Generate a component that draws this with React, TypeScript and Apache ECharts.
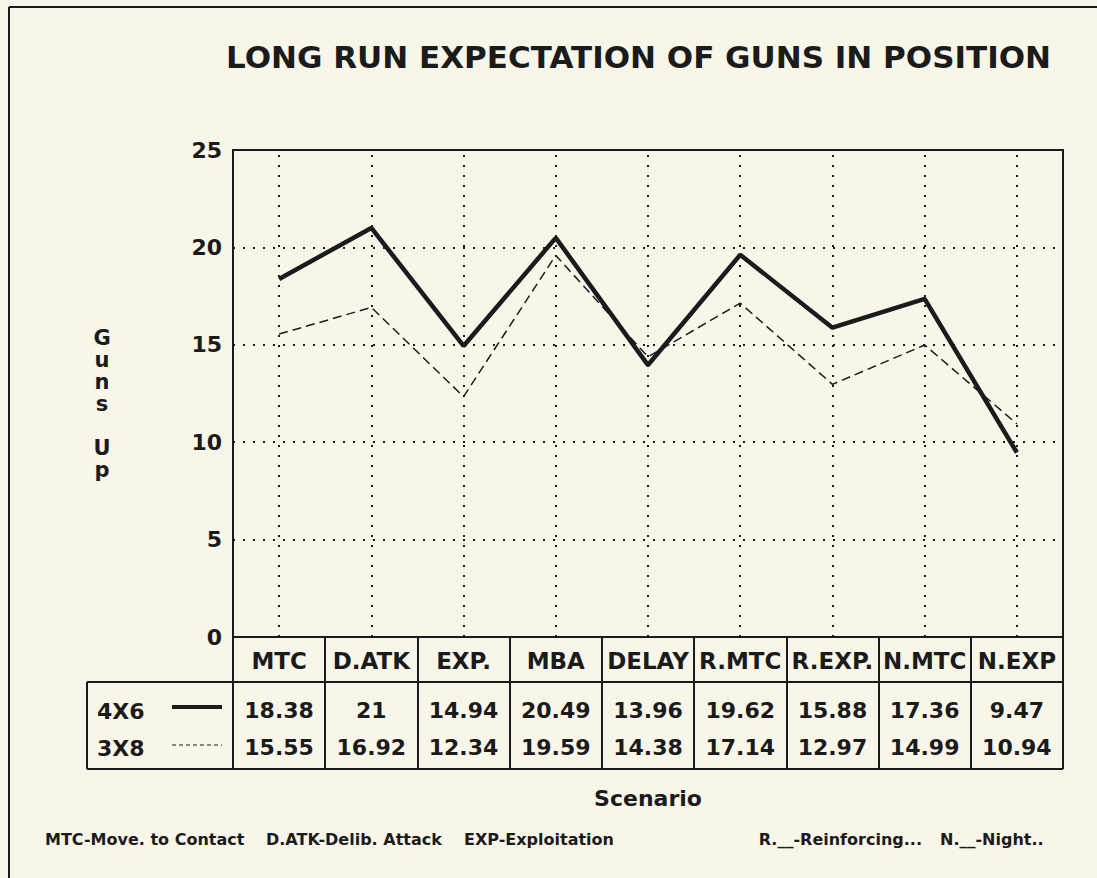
import React, { useEffect, useRef } from "react";
import * as echarts from "echarts";

const categories = ["MTC", "D.ATK", "EXP.", "MBA", "DELAY", "R.MTC", "R.EXP.", "N.MTC", "N.EXP"];
const values4x6 = [18.38, 21, 14.94, 20.49, 13.96, 19.62, 15.88, 17.36, 9.47];
const values3x8 = [15.55, 16.92, 12.34, 19.59, 14.38, 17.14, 12.97, 14.99, 10.94];
const seriesNames = ["4X6", "3X8"];
const yMin = 0;
const yMax = 25;
const yInterval = 5;
const titleText = "LONG RUN EXPECTATION OF GUNS IN POSITION";
const yAxisTitle = "G\nu\nn\ns\n \nU\np";
const xAxisTitle = "Scenario";
const footnotes = ["MTC-Move. to Contact", "D.ATK-Delib. Attack", "EXP-Exploitation", "R.__-Reinforcing...", "N.__-Night.."];

const INK = "#1b1b1b";
const BG = "#f8f6e9";
const FONT = "'DejaVu Sans', 'Liberation Sans', Arial, sans-serif";

export default function App() {
  const ref = useRef<HTMLDivElement>(null);
  useEffect(() => {
    document.body.style.margin = "0";
    const chart = echarts.init(ref.current!, null, { renderer: "svg" });
    const L = 233, R = 1063, T = 150, B = 637;
    const rowTop = 682, rowBot = 769, legLeft = 87;
    const labelStyle = { color: INK, fontFamily: FONT, fontWeight: "bold" as const, fontSize: 22 };
    const hiddenAxisBase = {
      type: "category" as const,
      data: categories,
      position: "bottom" as const,
      axisLine: { show: false },
      axisTick: { show: false },
      splitLine: { show: false },
    };
    const footStyle = (x: number, text: string, align: string = "left") => ({
      type: "text",
      x,
      y: 839,
      style: { text, fill: INK, font: `bold 16px ${FONT}`, textVerticalAlign: "middle", textAlign: align },
    });
    chart.setOption({
      animation: false,
      backgroundColor: BG,
      grid: { left: L, right: 1097 - R, top: T, bottom: 878 - B, show: true, borderColor: INK, borderWidth: 2, backgroundColor: "transparent" },
      xAxis: [
        {
          type: "category",
          data: categories,
          boundaryGap: true,
          axisLine: { show: true, lineStyle: { color: INK, width: 2 } },
          axisTick: { show: true, length: rowBot - B, lineStyle: { color: INK, width: 2 } },
          axisLabel: { ...labelStyle, fontSize: 23, margin: 12, interval: 0 },
          splitLine: { show: false },
          name: xAxisTitle,
          nameLocation: "middle",
          nameGap: 150,
          nameTextStyle: { ...labelStyle },
        },
        {
          ...hiddenAxisBase,
          offset: 54,
          axisLabel: { ...labelStyle, margin: 8, interval: 0, formatter: (_v: string, i: number) => String(values4x6[i]) },
        },
        {
          ...hiddenAxisBase,
          offset: 91,
          axisLabel: { ...labelStyle, margin: 8, interval: 0, formatter: (_v: string, i: number) => String(values3x8[i]) },
        },
        {
          ...hiddenAxisBase,
          axisLabel: { show: false },
          axisTick: { show: true, inside: true, alignWithLabel: true, length: B - T - 4, lineStyle: { color: INK, width: 2, type: [2, 8] } },
        },
      ],
      yAxis: {
        type: "value",
        min: yMin,
        max: yMax,
        interval: yInterval,
        axisLine: { show: true, lineStyle: { color: INK, width: 2 } },
        axisTick: { show: false },
        axisLabel: { ...labelStyle, margin: 11 },
        splitLine: { show: true, lineStyle: { color: INK, width: 2, type: [2, 8] } },
      },
      series: [
        {
          name: seriesNames[0],
          type: "line",
          data: values4x6,
          symbol: "none",
          lineStyle: { color: INK, width: 4.5 },
          z: 5,
        },
        {
          name: seriesNames[1],
          type: "line",
          data: values3x8,
          symbol: "none",
          lineStyle: { color: INK, width: 1.5, type: [9, 5] },
          z: 4,
        },
      ],
      graphic: [
        { type: "line", shape: { x1: 9, y1: 7, x2: 1097, y2: 7 }, style: { stroke: INK, lineWidth: 2 } },
        { type: "line", shape: { x1: 9, y1: 7, x2: 9, y2: 878 }, style: { stroke: INK, lineWidth: 2 } },
        { type: "text", x: 226, y: 57, style: { text: titleText, fill: INK, font: `bold 31px ${FONT}`, textVerticalAlign: "middle" } },
        { type: "text", x: 102, y: 404, style: { text: yAxisTitle, fill: INK, font: `bold 21px ${FONT}`, textAlign: "center", textVerticalAlign: "middle", lineHeight: 22 } },
        { type: "line", shape: { x1: legLeft, y1: rowTop, x2: R, y2: rowTop }, style: { stroke: INK, lineWidth: 2 } },
        { type: "line", shape: { x1: legLeft, y1: rowBot, x2: R, y2: rowBot }, style: { stroke: INK, lineWidth: 2 } },
        { type: "line", shape: { x1: legLeft, y1: rowTop, x2: legLeft, y2: rowBot }, style: { stroke: INK, lineWidth: 2 } },
        { type: "text", x: 97, y: 711, style: { text: seriesNames[0], fill: INK, font: `bold 22px ${FONT}`, textVerticalAlign: "middle" } },
        { type: "text", x: 97, y: 748, style: { text: seriesNames[1], fill: INK, font: `bold 22px ${FONT}`, textVerticalAlign: "middle" } },
        { type: "line", shape: { x1: 172, y1: 707, x2: 222, y2: 707 }, style: { stroke: INK, lineWidth: 4 } },
        { type: "line", shape: { x1: 172, y1: 745, x2: 222, y2: 745 }, style: { stroke: INK, lineWidth: 1.2, lineDash: [4, 3] } },
        footStyle(45, footnotes[0]),
        footStyle(266, footnotes[1]),
        footStyle(464, footnotes[2]),
        footStyle(922, footnotes[3], "right"),
        footStyle(940, footnotes[4]),
      ],
    });
    return () => chart.dispose();
  }, []);
  return <div ref={ref} style={{ width: 1097, height: 878 }} />;
}
